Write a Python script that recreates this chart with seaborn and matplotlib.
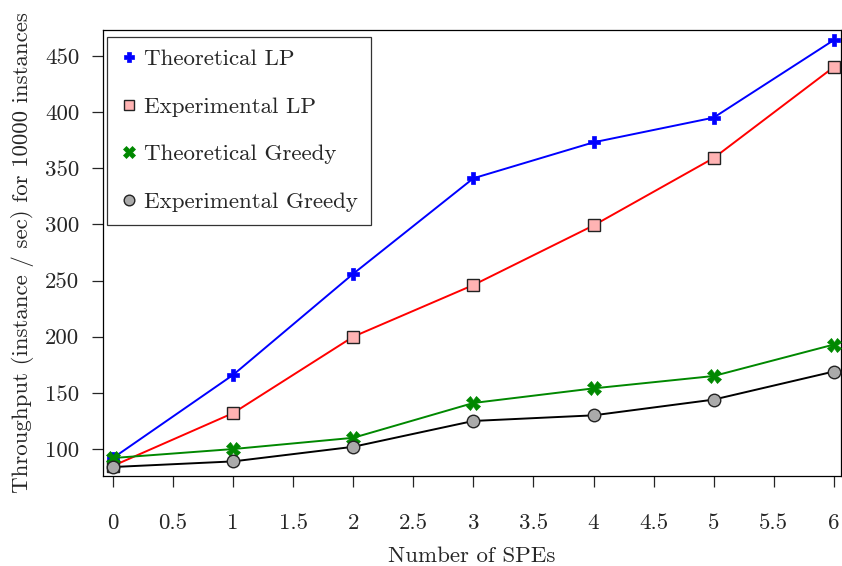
import numpy as np
import pandas as pd
import matplotlib
matplotlib.use("Agg")
import matplotlib.pyplot as plt
from matplotlib.lines import Line2D
import seaborn as sns

# values
spes = [0, 1, 2, 3, 4, 5, 6]
theo_lp = [92, 166, 256, 341, 373, 395, 464]
exp_lp = [85, 132, 200, 246, 299, 359, 440]
theo_greedy = [92, 100, 110, 141, 154, 165, 193]
exp_greedy = [84, 89, 102, 125, 130, 144, 169]

x_ticks = [0, 0.5, 1, 1.5, 2, 2.5, 3, 3.5, 4, 4.5, 5, 5.5, 6]
y_ticks = [100, 150, 200, 250, 300, 350, 400, 450]

sns.set_style("ticks")
plt.rcParams["font.family"] = ["cmr10", "DejaVu Serif"]
plt.rcParams["mathtext.fontset"] = "cm"
plt.rcParams["axes.formatter.use_mathtext"] = True
plt.rcParams["axes.unicode_minus"] = False

# series styles: (label, values, line colour, marker, face, edge, size, edge width)
series = [
    ("Theoretical LP", theo_lp, "#0000ff", "P", "#0000ff", "#0000ff", 9, 0.5),
    ("Experimental LP", exp_lp, "#ff0000", "s", "#ffb3b3", "#222222", 9, 1.0),
    ("Theoretical Greedy", theo_greedy, "#008800", "X", "#008800", "#008800", 10, 0.5),
    ("Experimental Greedy", exp_greedy, "#000000", "o", "#aaaaaa", "#222222", 9, 1.0),
]

fig = plt.figure(figsize=(8.42, 5.66), dpi=100)
ax = fig.add_axes([0.1223, 0.159, 0.8765, 0.788])

handles = []
for label, vals, col, mk, fc, ec, ms, mew in series:
    df = pd.DataFrame({"spes": spes, "val": vals})
    sns.lineplot(data=df, x="spes", y="val", ax=ax, color=col, linewidth=1.4,
                 marker=mk, markersize=ms, markerfacecolor=fc,
                 markeredgecolor=ec, markeredgewidth=mew, zorder=3)
    handles.append(Line2D([], [], linestyle="none", marker=mk, markersize=ms * 0.85,
                          markerfacecolor=fc, markeredgecolor=ec,
                          markeredgewidth=mew, label=label))

ax.set_xlim(-0.083, 6.06)
ax.set_ylim(76, 473)
ax.set_xticks(x_ticks)
ax.set_xticklabels([f"{v:g}" for v in x_ticks])
ax.set_yticks(y_ticks)
ax.set_yticklabels([str(v) for v in y_ticks])

ax.tick_params(axis="x", direction="out", length=8, width=0.9, pad=19, labelsize=16.5)
ax.tick_params(axis="y", direction="out", length=8, width=0.9, pad=9, labelsize=16.5)
for sp in ax.spines.values():
    sp.set_visible(True)
    sp.set_linewidth(0.9)
    sp.set_color("black")

ax.set_xlabel("Number of SPEs", fontsize=16.5, labelpad=10)
ax.set_ylabel("Throughput (instance / sec) for 10000 instances", fontsize=16.5, labelpad=8)

leg = ax.legend(handles=handles, loc="upper left", bbox_to_anchor=(0.006, 0.985),
                fontsize=16.5, frameon=True, fancybox=False, labelspacing=1.2,
                handlelength=0.8, handletextpad=0.25, borderpad=0.55,
                borderaxespad=0.0)
leg.get_frame().set_edgecolor("black")
leg.get_frame().set_linewidth(0.9)

fig.savefig("out.png", dpi=100)
